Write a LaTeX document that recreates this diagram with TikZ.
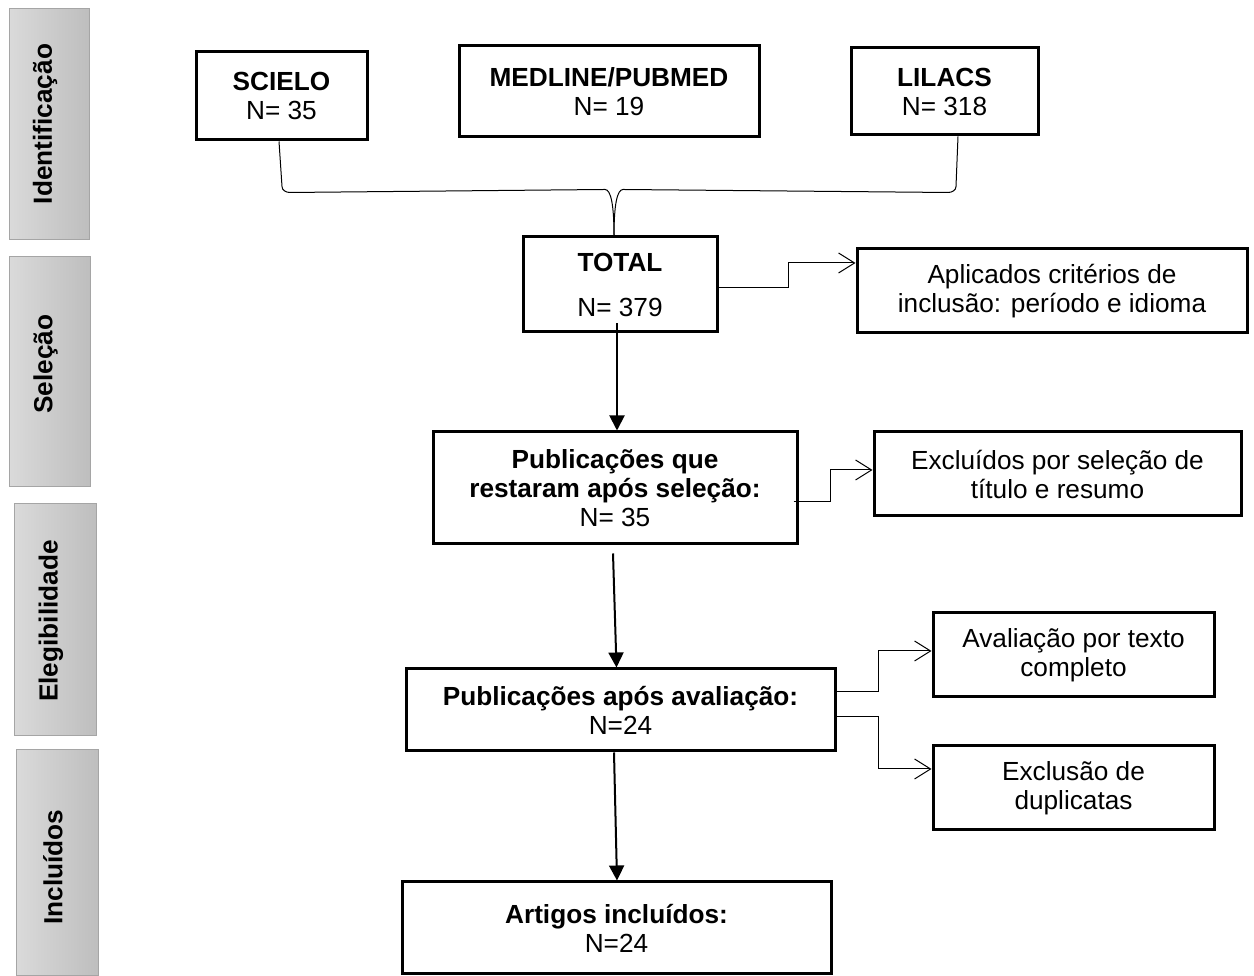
\documentclass[tikz,border=0pt]{standalone}
\usepackage{fontspec}
\setmainfont{Liberation Sans}
\usetikzlibrary{arrows.meta}
\definecolor{barlight}{RGB}{218,218,218}
\definecolor{bardark}{RGB}{190,190,190}
\definecolor{barline}{RGB}{165,165,165}
\newcommand{\flowfont}{\fontsize{26.2}{29}\selectfont}
\tikzset{
  box/.style={draw, line width=3pt, inner sep=0pt, align=center},
  bar/.style={draw=barline, line width=1pt, left color=barlight, right color=bardark, inner sep=0pt},
  phase/.style={rotate=90, font=\flowfont\bfseries},
  link/.style={line width=1pt},
  flow/.style={line width=2pt, -{Triangle[width=15pt,length=15pt]}},
  side/.style={line width=1pt, -{Straight Barb[length=16pt,width=20pt]}}
}
\begin{document}
\begin{tikzpicture}[x=1pt,y=1pt,font=\flowfont]
\useasboundingbox (0,0) rectangle (1254,976);
% fases
\foreach \n/\x/\y/\w/\h/\ty/\t in {ident/49/851.5/80/231/852/Identificação,sel/49.5/604/81/230/612/Seleção,eleg/55/356/82/232/355/Elegibilidade,incl/57/113/82/226/109/Incluídos} {
	\node[bar, minimum width=\w pt, minimum height=\h pt] (\n) at (\x,\y) {};
	\node[phase] (\n-t) at (\x-4,\ty) {\t};
}
% bases
\node[box, minimum width=171pt, minimum height=88pt] (scielo) at (281.5,880) {\textbf{SCIELO}\\N= 35};
\node[box, minimum width=300pt, minimum height=91pt] (medline) at (609,884.5) {\textbf{MEDLINE/PUBMED}\\N= 19};
\node[box, minimum width=187pt, minimum height=87pt] (lilacs) at (944.5,884.5) {\textbf{LILACS}\\N= 318};
\node[box, minimum width=194pt, minimum height=95pt] (total) at (620,691.5) {\textbf{TOTAL}\\[16pt]N= 379};
\node[box, minimum width=390pt, minimum height=84pt] (aplic) at (1052,685) {Aplicados critérios de\\inclusão: período e idioma};
\node[box, minimum width=364pt, minimum height=112pt] (pub1) at (615,488) {\textbf{Publicações que}\\\textbf{restaram após seleção:}\\N= 35};
\node[box, minimum width=367pt, minimum height=84pt] (excl) at (1057.5,502) {Excluídos por seleção de\\título e resumo};
\node[box, minimum width=281pt, minimum height=84pt] (aval) at (1073.5,321) {Avaliação por texto\\completo};
\node[box, minimum width=429pt, minimum height=82pt] (pub2) at (620.5,266) {\textbf{Publicações após avaliação:}\\N=24};
\node[box, minimum width=281pt, minimum height=84pt] (dup) at (1073.5,188) {Exclusão de\\duplicatas};
\node[box, minimum width=429pt, minimum height=92pt] (artigos) at (616.5,48) {\textbf{Artigos incluídos:}\\N=24};

% chave
\coordinate (join) at ([xshift=-6pt,yshift=46pt]total.north);
\draw[link] ([xshift=-2.5pt]scielo.south) -- ++(3,-45) to[out=-90,in=180] ++(8,-6) -- ([xshift=-9pt]join) .. controls +(6,0) and +(0,30) .. ([xshift=-6pt]total.north);
\draw[link] ([xshift=13.5pt]lilacs.south) -- ++(-2,-50) to[out=-90,in=0] ++(-8,-6) -- ([xshift=9pt]join) .. controls +(-6,0) and +(0,30) .. ([xshift=-6pt]total.north);

% fluxo
\draw[flow] ([xshift=-3pt,yshift=10pt]total.south) -- ([xshift=2pt]pub1.north);
\draw[flow] ([xshift=-2pt,yshift=-8pt]pub1.south) -- ([xshift=-4pt]pub2.north);
\draw[flow] ([xshift=-6.5pt]pub2.south) -- ([xshift=0.5pt]artigos.north);

\draw[side] ([yshift=-3.5pt]total.east) -- ++(70,0) |- ([yshift=28pt]aplic.west);
\draw[side] ([xshift=-5pt,yshift=-14pt]pub1.east) -- ++(37,0) |- ([yshift=4pt]excl.west);
\draw[side] ([yshift=18pt]pub2.east) -- ++(42,0) |- ([yshift=4pt]aval.west);
\draw[side] ([yshift=-7pt]pub2.east) -- ++(42,0) |- ([yshift=19pt]dup.west);
\end{tikzpicture}
\end{document}
